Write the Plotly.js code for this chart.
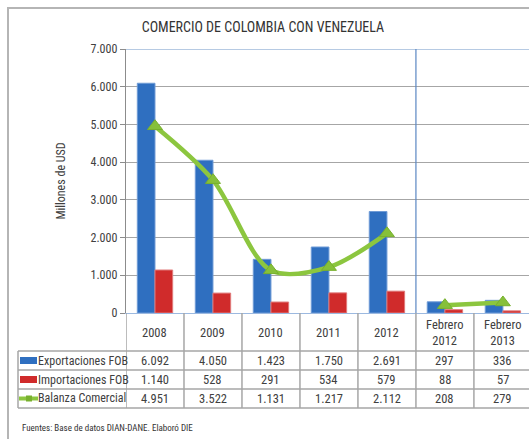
<!DOCTYPE html>
<html>
<head>
<meta charset="utf-8">
<script src="https://cdn.plot.ly/plotly-3.0.1.min.js"></script>
<style>html,body{margin:0;padding:0;background:#fff;}#chart{width:529px;height:439px;}</style>
</head>
<body>
<div id="chart"></div>
<script>
// ---- data ----
var categories = ["2008", "2009", "2010", "2011", "2012", "Febrero<br>2012", "Febrero<br>2013"];
var exportaciones = [6092, 4050, 1423, 1750, 2691, 297, 336];
var importaciones = [1140, 528, 291, 534, 579, 88, 57];
var balanza = [4951, 3522, 1131, 1217, 2112, 208, 279];
var seriesNames = ["Exportaciones FOB", "Importaciones FOB", "Balanza Comercial"];
var yTicks = [0, 1000, 2000, 3000, 4000, 5000, 6000, 7000];

// ---- layout constants (pixels) ----
var W = 529, H = 439;
var L = 126, T = 49, B = 313;           // plot area
var plotW = W - L, plotH = B - T;
function py(y) { return (B - y) / plotH; }   // pixel y -> paper y
function px(x) { return (x - L) / plotW; }   // pixel x -> paper x

var FONT = "'Liberation Sans Narrow', 'Arial Narrow', 'Roboto Condensed', sans-serif";
var TXT = "#404040";
var GRID = "#a6a6a6";
var BLUE = "#2f6fc0", RED = "#d02b2b", GREEN = "#8cc63f";

function fmt(v) { return v.toString().replace(/\B(?=(\d{3})+(?!\d))/g, "."); }

var idx = categories.map(function (c, i) { return i; });

var traces = [
  { type: "bar", x: idx, y: exportaciones, name: seriesNames[0],
    marker: { color: BLUE, line: { color: "#6f9bd6", width: 1 } }, hoverinfo: "y" },
  { type: "bar", x: idx, y: importaciones, name: seriesNames[1],
    marker: { color: RED, line: { color: "#e07a7a", width: 1 } }, hoverinfo: "y" },
  { type: "scatter", mode: "lines+markers", x: idx.slice(0, 5), y: balanza.slice(0, 5),
    name: seriesNames[2], line: { color: GREEN, width: 4.5, shape: "spline", smoothing: 0.9 },
    marker: { symbol: "triangle-up", size: 13, color: "#86c03a", line: { color: "#78b02e", width: 1 } } },
  { type: "scatter", mode: "lines+markers", x: idx.slice(5), y: balanza.slice(5),
    name: seriesNames[2], showlegend: false, line: { color: GREEN, width: 4.5, shape: "spline" },
    marker: { symbol: "triangle-up", size: 13, color: "#86c03a", line: { color: "#78b02e", width: 1 } } }
];

var shapes = [];
var annotations = [];

// outer frame
shapes.push({ type: "rect", xref: "paper", yref: "paper", x0: px(8), x1: px(545), y0: py(8), y1: py(450),
  line: { color: "#b5b5b5", width: 2 }, layer: "below" });
// top border line of plot (blue)
shapes.push({ type: "line", xref: "paper", yref: "y", x0: 0, x1: 1, y0: 7000, y1: 7000,
  line: { color: "#6f95c8", width: 1.2 } });
// separator between annual and monthly
shapes.push({ type: "line", xref: "x", yref: "y", x0: 4.5, x1: 4.5, y0: 0, y1: 7000,
  line: { color: "#5a86c2", width: 1.2 } });

// table geometry
var rowLines = [351, 370, 389, 408];
var tableLeft = 18;
rowLines.forEach(function (y) {
  shapes.push({ type: "line", xref: "paper", yref: "paper", x0: px(tableLeft), x1: px(545), y0: py(y), y1: py(y),
    line: { color: GRID, width: 1.5 } });
});
for (var b = 0; b <= categories.length; b++) {
  shapes.push({ type: "line", xref: "x", yref: "paper", x0: b - 0.5, x1: b - 0.5, y0: py(313), y1: py(408),
    line: { color: GRID, width: 1.5 } });
}
shapes.push({ type: "line", xref: "paper", yref: "paper", x0: px(tableLeft), x1: px(tableLeft), y0: py(351), y1: py(408),
  line: { color: GRID, width: 1.5 } });

// header row category labels
categories.forEach(function (c, i) {
  annotations.push({ xref: "x", yref: "paper", x: i, y: py(332), text: c, showarrow: false,
    xanchor: "center", yanchor: "middle", font: { family: FONT, size: 12.5, color: TXT } });
});

// data rows
var rows = [exportaciones, importaciones, balanza];
var rowCenters = [360.5, 379.5, 398.5];
rows.forEach(function (arr, r) {
  arr.forEach(function (v, i) {
    annotations.push({ xref: "x", yref: "paper", x: i, y: py(rowCenters[r]), text: fmt(v), showarrow: false,
      xanchor: "center", yanchor: "middle", font: { family: FONT, size: 12.5, color: TXT } });
  });
  annotations.push({ xref: "paper", yref: "paper", x: px(36), y: py(rowCenters[r]), text: seriesNames[r], showarrow: false,
    xanchor: "left", yanchor: "middle", font: { family: FONT, size: 12, color: TXT } });
});
// legend keys
shapes.push({ type: "rect", xref: "paper", yref: "paper", x0: px(20), x1: px(37), y0: py(357), y1: py(364),
  fillcolor: BLUE, line: { width: 0 } });
shapes.push({ type: "rect", xref: "paper", yref: "paper", x0: px(20), x1: px(37), y0: py(376), y1: py(383),
  fillcolor: RED, line: { width: 0 } });
shapes.push({ type: "line", xref: "paper", yref: "paper", x0: px(19), x1: px(38), y0: py(398.5), y1: py(398.5),
  line: { color: GREEN, width: 4 } });
shapes.push({ type: "rect", xref: "paper", yref: "paper", x0: px(26), x1: px(32), y0: py(395.5), y1: py(401.5),
  fillcolor: "#78b02e", line: { width: 0 } });

// footer
annotations.push({ xref: "paper", yref: "paper", x: px(20), y: py(428), text: "Fuentes: Base de datos DIAN-DANE. Elaboró DIE",
  showarrow: false, xanchor: "left", yanchor: "middle", font: { family: FONT, size: 9, color: "#333" } });

var layout = {
  width: W, height: H,
  margin: { l: L, r: 0, t: T, b: H - B, pad: 0 },
  paper_bgcolor: "#fff", plot_bgcolor: "#fff",
  separators: ",.",
  showlegend: false,
  barmode: "group", bargap: 0.39, bargroupgap: 0,
  title: { text: "COMERCIO DE COLOMBIA CON VENEZUELA", x: 0.497, xanchor: "center", y: 1 - 27 / H, yanchor: "middle",
    font: { family: FONT, size: 14, color: "#333" } },
  xaxis: { type: "linear", range: [-0.5, 6.45], showticklabels: false, showgrid: false, zeroline: false,
    showline: true, linecolor: "#9cb9e0", linewidth: 1.2, ticks: "", fixedrange: true },
  yaxis: { range: [0, 7000], tickvals: yTicks, tickformat: ",d", showgrid: true, gridcolor: GRID, gridwidth: 1,
    zeroline: false, showline: true, linecolor: "#8c8c8c", linewidth: 1.2, ticks: "outside", ticklen: 5, tickcolor: "#8c8c8c",
    tickfont: { family: FONT, size: 12, color: TXT },
    title: { text: "Millones de USD", standoff: 22, font: { family: FONT, size: 12, color: TXT } }, fixedrange: true },
  shapes: shapes,
  annotations: annotations
};

Plotly.newPlot("chart", traces, layout, { displayModeBar: false, staticPlot: true });
</script>
</body>
</html>
